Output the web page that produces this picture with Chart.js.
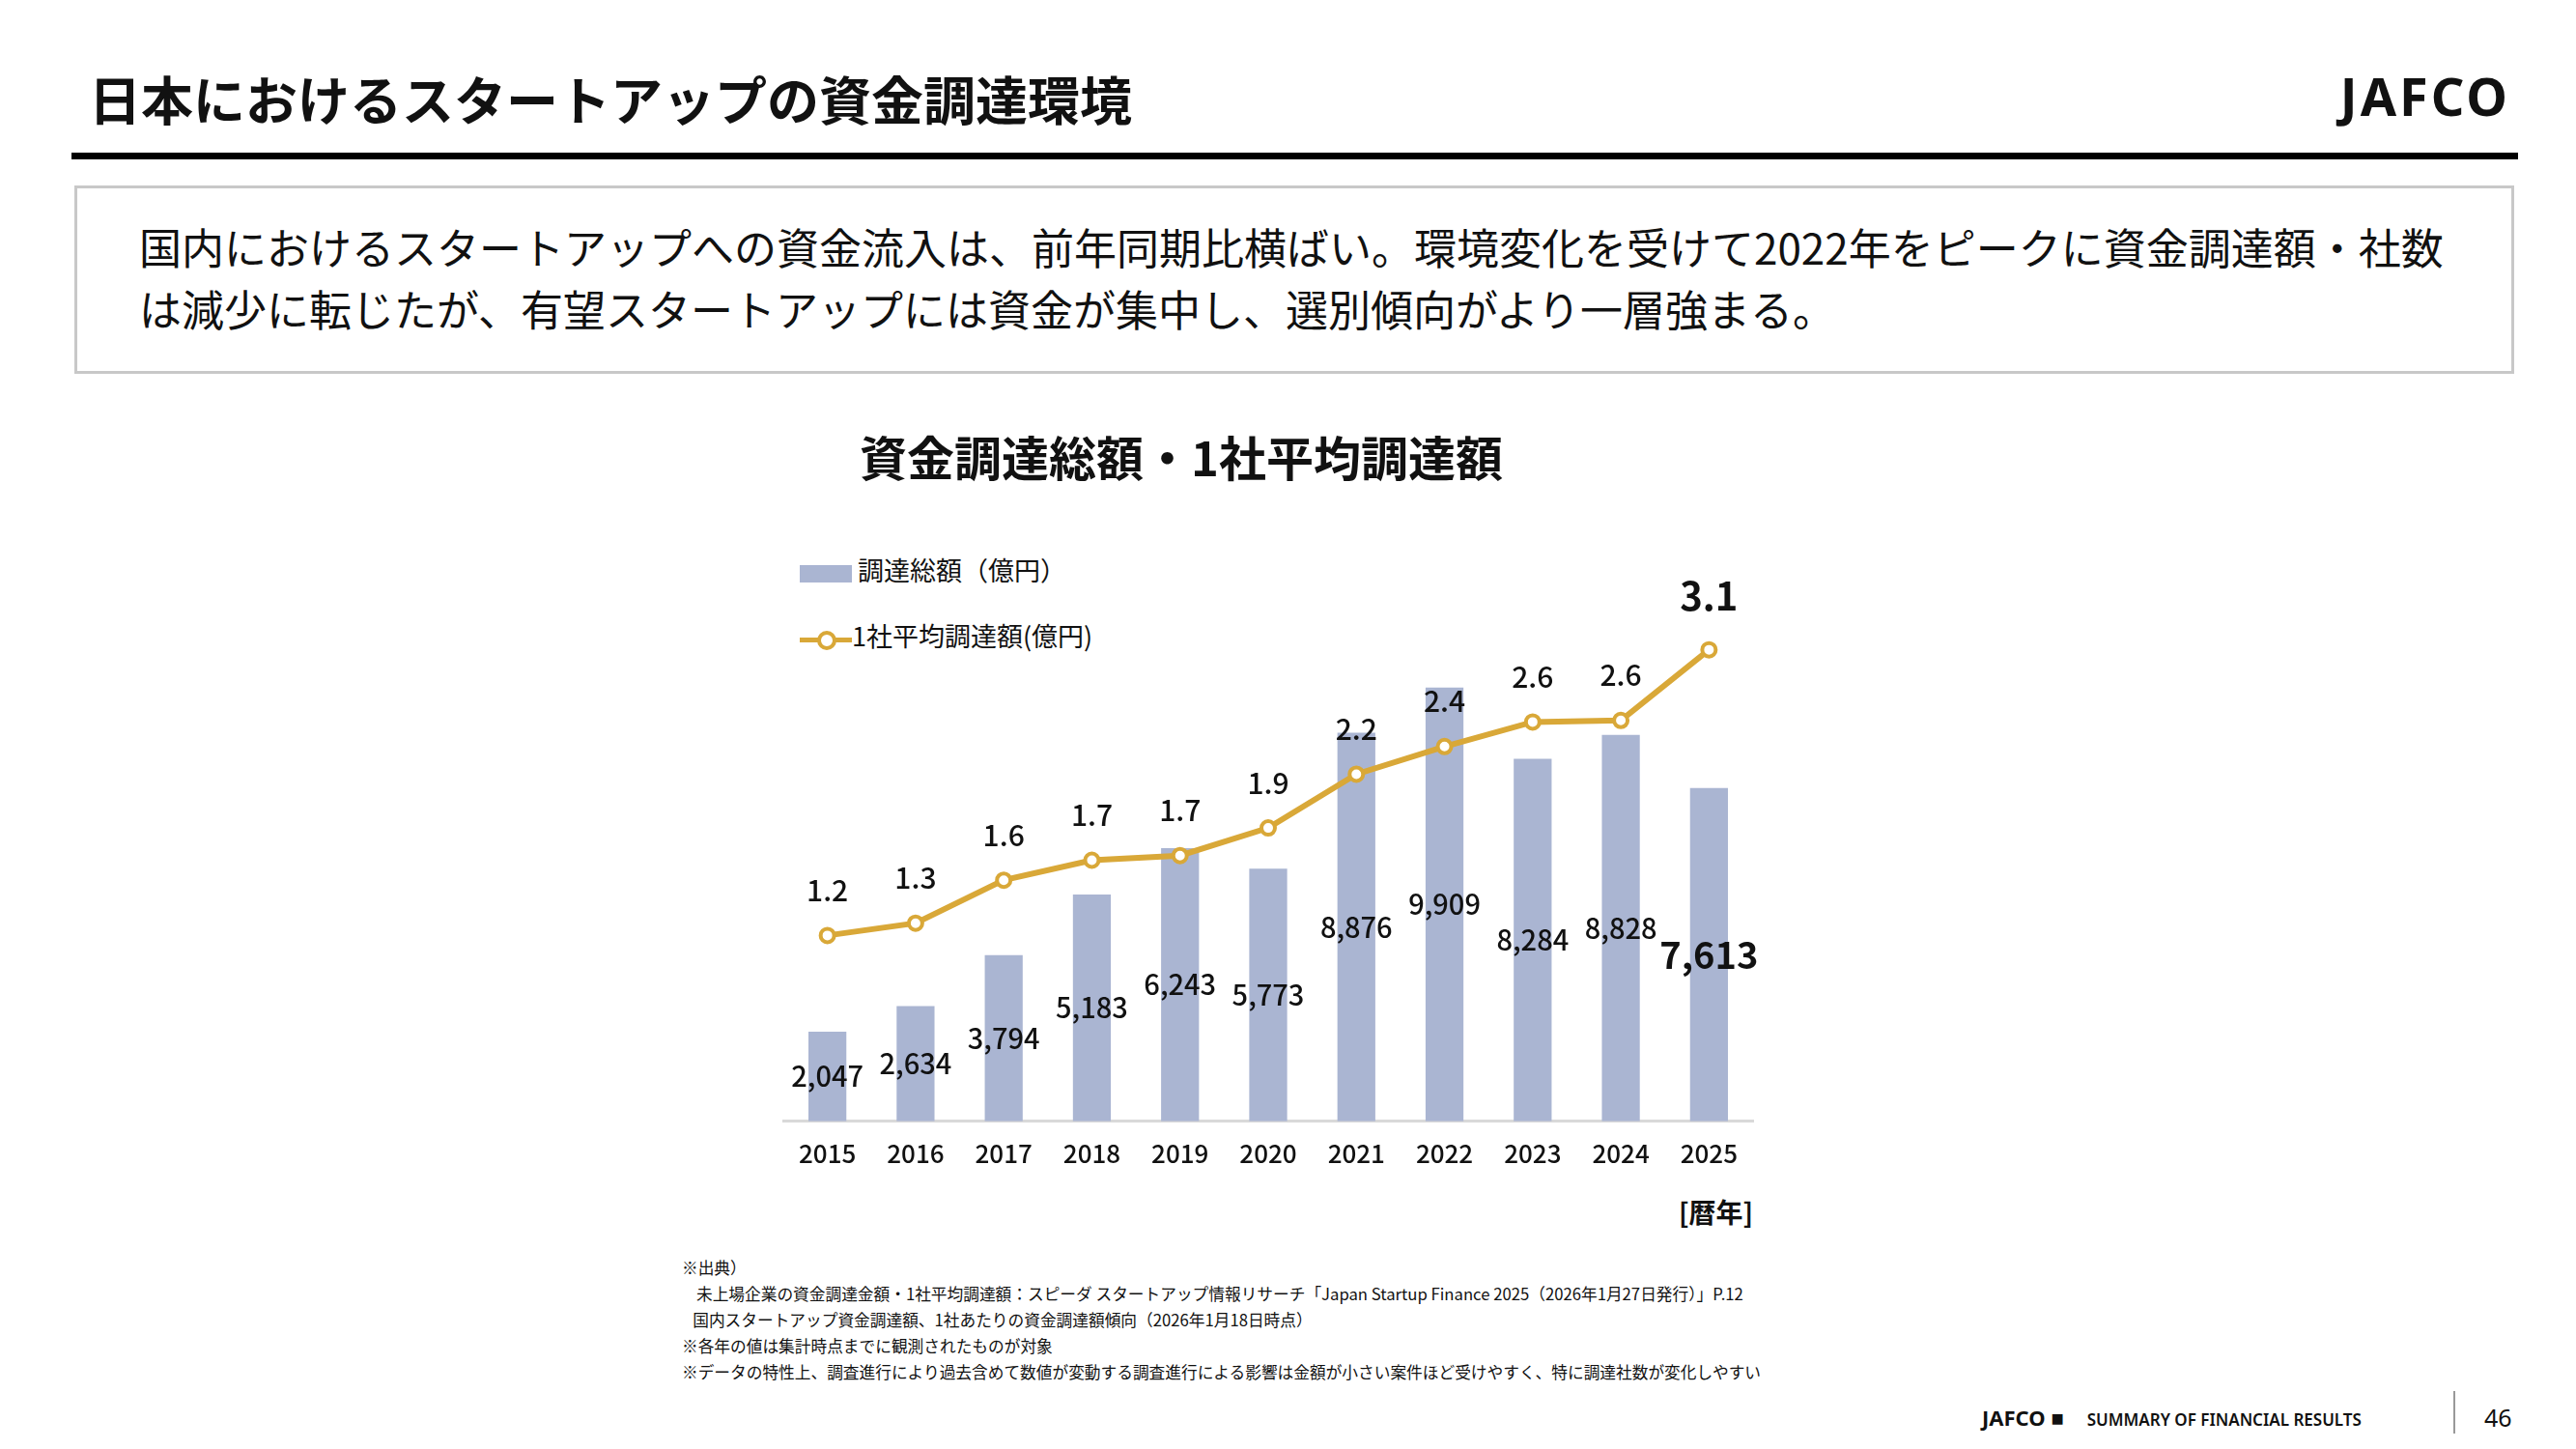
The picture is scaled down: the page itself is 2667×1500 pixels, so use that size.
<!DOCTYPE html>
<html lang="ja">
<head>
<meta charset="utf-8">
<script src="https://cdn.jsdelivr.net/npm/chart.js@4.4.1/dist/chart.umd.min.js"></script>
<style>
  body { margin: 0; width: 2667px; height: 1500px; background: #fff; position: relative; overflow: hidden;
         font-family: "Noto Sans CJK JP", "Noto Sans", sans-serif; color: #111; }
  .abs { position: absolute; white-space: nowrap; }
  #title { left: 92px; top: 62px; font-size: 54px; font-weight: 700; }
  #logo { right: 68px; top: 62px; font-size: 54px; font-weight: 700; letter-spacing: 3px; font-family: "Noto Sans", sans-serif; }
  #rule { left: 74px; top: 158px; width: 2533px; height: 7px; background: #000; }
  #box { left: 77px; top: 192px; width: 2526px; height: 195px; border: 3px solid #c8c8c8; box-sizing: border-box; }
  #box p { margin: 0; position: absolute; left: 64px; font-size: 44px; line-height: 64px; top: 28px; }
  #ctitle { left: 0; width: 2446px; text-align: center; top: 436px; font-size: 49px; font-weight: 700; }
  .leg { font-size: 27px; }
  #chartBox { left: 800px; top: 568px; width: 1026px; height: 660px; }
  #unit { left: 1738px; top: 1234px; font-size: 28px; font-weight: 700; }
  #notes { left: 706px; top: 1300px; font-size: 16.7px; }
  #notes div { height: 27px; }
  #footer { left: 2052px; top: 1452px; font-size: 22px; font-weight: 700; font-family: "Noto Sans", sans-serif; }
  #footer span { font-size: 17px; font-weight: 600; margin-left: 24px; }
  #vline { left: 2540px; top: 1440px; width: 2px; height: 44px; background: #999; }
  #page { left: 2572px; top: 1450px; font-size: 25px; font-family: "Noto Sans", sans-serif; }
</style>
</head>
<body>
<div class="abs" id="title">日本におけるスタートアップの資金調達環境</div>
<div class="abs" id="logo">JAFCO</div>
<div class="abs" id="rule"></div>
<div class="abs" id="box"><p>国内におけるスタートアップへの資金流入は、前年同期比横ばい。環境変化を受けて2022年をピークに資金調達額・社数<br>は減少に転じたが、有望スタートアップには資金が集中し、選別傾向がより一層強まる。</p></div>
<div class="abs" id="ctitle">資金調達総額・1社平均調達額</div>

<div class="abs leg" style="left:828px;top:570px;">
  <span style="display:inline-block;width:54px;height:18px;background:#aab5d2;vertical-align:middle;"></span> 調達総額（億円）
</div>
<div class="abs leg" style="left:828px;top:638px;">
  <span style="display:inline-block;position:relative;width:54px;height:18px;vertical-align:middle;">
    <span style="position:absolute;left:0;top:7px;width:54px;height:5px;background:#d9a838;"></span>
    <span style="position:absolute;left:18px;top:0;width:12px;height:12px;border:4px solid #d9a838;border-radius:50%;background:#fff;"></span>
  </span>1社平均調達額(億円)
</div>

<div class="abs" id="chartBox"><canvas id="chart"></canvas></div>
<div class="abs" id="unit">[暦年]</div>

<div class="abs" id="notes">
  <div>※出典）</div>
  <div>&nbsp;&nbsp;&nbsp;&nbsp;未上場企業の資金調達金額・1社平均調達額：スピーダ スタートアップ情報リサーチ「Japan Startup Finance 2025（2026年1月27日発行）」P.12</div>
  <div>&nbsp;&nbsp;&nbsp;国内スタートアップ資金調達額、1社あたりの資金調達額傾向（2026年1月18日時点）</div>
  <div>※各年の値は集計時点までに観測されたものが対象</div>
  <div>※データの特性上、調査進行により過去含めて数値が変動する調査進行による影響は金額が小さい案件ほど受けやすく、特に調達社数が変化しやすい</div>
</div>

<div class="abs" id="footer">JAFCO ■<span>SUMMARY OF FINANCIAL RESULTS</span></div>
<div class="abs" id="vline"></div>
<div class="abs" id="page">46</div>

<script>
const years = ["2015", "2016", "2017", "2018", "2019", "2020", "2021", "2022", "2023", "2024", "2025"];
const totalFunding = [2047, 2634, 3794, 5183, 6243, 5773, 8876, 9909, 8284, 8828, 7613];
const avgPerCompany = [1.2, 1.3, 1.6, 1.7, 1.7, 1.9, 2.2, 2.4, 2.6, 2.6, 3.1];
// plotted position of the average (slightly off the rounded label in the source)
const avgPlotted = [1.21, 1.29, 1.57, 1.70, 1.73, 1.91, 2.26, 2.44, 2.60, 2.61, 3.07];

const BAR_COLOR = "#aab5d2";
const LINE_COLOR = "#d9a838";

// draws value labels: bar values at bar middle, averages above the points
const valueLabels = {
  id: "valueLabels",
  afterDatasetsDraw(chart) {
    const ctx = chart.ctx;
    ctx.save();
    ctx.fillStyle = "#111";
    ctx.textAlign = "center";
    ctx.textBaseline = "middle";
    const last = years.length - 1;
    chart.getDatasetMeta(1).data.forEach((bar, i) => {
      const big = i === last;
      ctx.font = (big ? "600 38px" : "500 29px") + ' "Noto Sans CJK JP", sans-serif';
      const y = (bar.y + bar.base) / 2;
      ctx.fillText(totalFunding[i].toLocaleString("en-US"), bar.x, y);
    });
    chart.getDatasetMeta(0).data.forEach((pt, i) => {
      const big = i === last;
      ctx.font = (big ? "600 40px" : "500 30px") + ' "Noto Sans CJK JP", sans-serif';
      ctx.fillText(avgPerCompany[i].toFixed(1), pt.x, pt.y - (big ? 56 : 47));
    });
    ctx.restore();
  },
};

new Chart(document.getElementById("chart"), {
  data: {
    labels: years,
    datasets: [
      {
        type: "line",
        label: "1社平均調達額(億円)",
        data: avgPlotted,
        yAxisID: "yAvg",
        borderColor: LINE_COLOR,
        borderWidth: 6,
        pointRadius: 7,
        pointBorderWidth: 4,
        pointBackgroundColor: "#fff",
        pointBorderColor: LINE_COLOR,
        tension: 0,
        order: 0,
      },
      {
        type: "bar",
        label: "調達総額（億円）",
        data: totalFunding,
        yAxisID: "yTotal",
        backgroundColor: BAR_COLOR,
        barPercentage: 0.43,
        categoryPercentage: 1,
        order: 1,
      },
    ],
  },
  options: {
    responsive: true,
    maintainAspectRatio: false,
    animation: false,
    layout: { padding: { top: 49, left: 0, right: 0, bottom: 0 } },
    plugins: { legend: { display: false }, tooltip: { enabled: false } },
    scales: {
      x: {
        offset: true,
        grid: { display: false, drawTicks: false },
        border: { color: "#d9d9d9", width: 3 },
        ticks: { color: "#111", padding: 18, font: { size: 26, weight: "500", family: '"Noto Sans CJK JP", sans-serif' } },
      },
      yTotal: { display: false, min: 0, max: 12000 },
      yAvg: { display: false, min: 0, max: 3.42 },
    },
  },
  plugins: [valueLabels],
});
</script>
</body>
</html>
